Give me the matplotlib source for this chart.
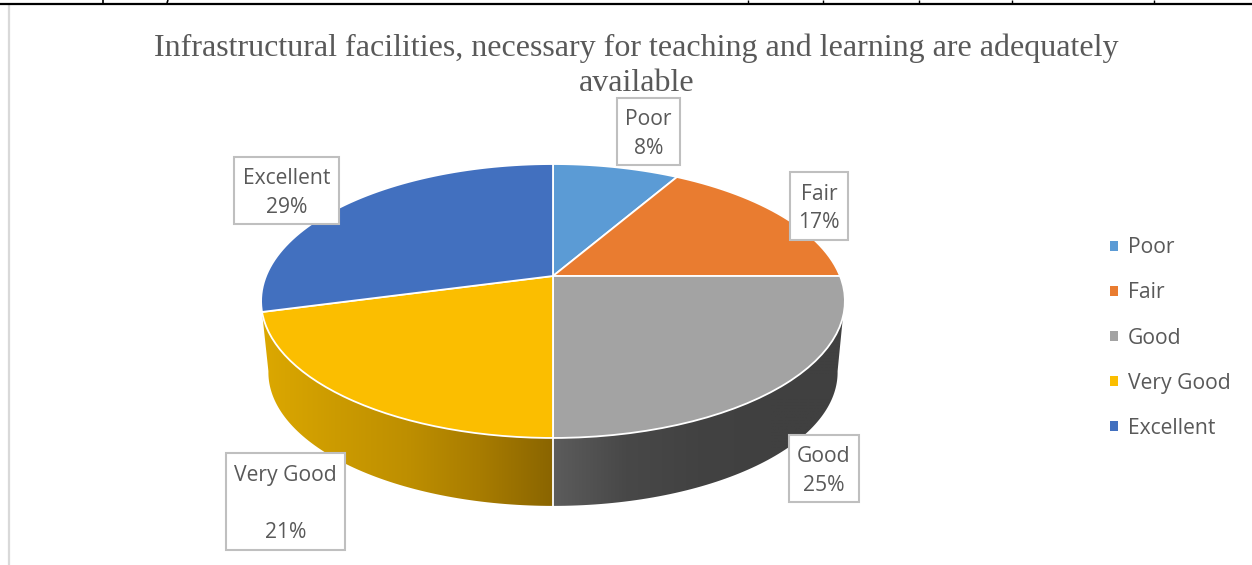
import numpy as np
import matplotlib
matplotlib.use("Agg")
import matplotlib.pyplot as plt
from matplotlib.colors import LinearSegmentedColormap
from matplotlib.patches import Patch, Polygon, Rectangle
from matplotlib.path import Path
from matplotlib.transforms import Transform

# ---- data ----
categories = ["Poor", "Fair", "Good", "Very Good", "Excellent"]
values = [4, 8, 12, 10, 14]
title = "Infrastructural facilities, necessary for teaching and learning are adequately\navailable"

# ---- styles ----
top_colors = ["#5B9BD5", "#E97C30", "#A3A3A3", "#FBBE00", "#4270BF"]
side_stops = {
    "Good": ["#5C5C5C", "#484848", "#424242", "#404040", "#404040"],
    "Very Good": ["#8A6500", "#A87C00", "#BE8F00", "#CC9B00", "#DCA800"],
}
TEXT = "#595959"
BORDER = "#BFBFBF"
SANS = "Open Sans"
SERIF = "Liberation Serif"
FS = 15.2

# label boxes: left, top, right, bottom in figure pixels
boxes = [(617, 98, 680, 165), (790, 172, 848, 240), (789, 435, 859, 502),
         (226, 453, 345, 550), (234, 157, 339, 224)]
label_layout = ["{}\n{}%", "{}\n{}%", "{}\n{}%", "{}\n\n{}%", "{}\n{}%"]

# pie projection (tilted, perspective view)
CX, CY = 553.0, 276.0
A, B, K = 287.0, 132.4, 0.1825
DEPTH, SHRINK = 72.0, 0.975


class Tilted(Transform):
    input_dims = output_dims = 2
    has_inverse = False

    def transform_non_affine(self, xy):
        xy = np.asarray(xy, float)
        w = 1 + K * xy[:, 1]
        return np.c_[CX + A * xy[:, 0] / w, CY - B * xy[:, 1] / w]

    def transform_path_non_affine(self, path):
        big = Path(path.vertices * 600, path.codes)
        poly = big.to_polygons(closed_only=False)
        return Path(self.transform_non_affine(np.vstack(poly) / 600))


tilted = Tilted()


def rim(deg):
    t = np.radians(deg)
    return tilted.transform_non_affine(np.c_[np.sin(t), np.cos(t)])


def lower(pts):
    return np.c_[CX + (pts[:, 0] - CX) * SHRINK, CY + (pts[:, 1] - CY) * SHRINK + DEPTH]


fig = plt.figure(figsize=(12.52, 5.65), dpi=100, facecolor="white")
ax = fig.add_axes([0, 0, 1, 1])

wedges, _ = ax.pie(values, colors=top_colors, startangle=90, counterclock=False,
                   wedgeprops=dict(edgecolor="white", linewidth=1.3))
for w in wedges:
    w.set_transform(tilted + ax.transData)
    w.set_zorder(4)
    w.set_clip_on(False)

# extruded side of the pie
for w, name in zip(wedges, categories):
    c0, c1 = 90 - w.theta2, 90 - w.theta1
    if name not in side_stops:
        continue
    top_a = max(c0, 107)
    bot_a = max(c0, 100)
    bot_b = 260 if c1 > 250 else c1
    top_arc = rim(np.linspace(top_a, c1, 80))
    bot_arc = lower(rim(np.linspace(bot_b, bot_a, 80)))
    poly = np.vstack([top_arc, bot_arc])
    cmap = LinearSegmentedColormap.from_list(name, side_stops[name])
    x0, x1 = poly[:, 0].min(), poly[:, 0].max()
    grad = np.linspace(0, 1, 256)[None, :]
    if name == "Very Good":
        grad = grad[:, ::-1]
    im = ax.imshow(grad, cmap=cmap, extent=(x0, x1, poly[:, 1].max(), poly[:, 1].min()),
                   aspect="auto", zorder=2, interpolation="bilinear")
    clip = Polygon(poly, closed=True, transform=ax.transData, facecolor="none", edgecolor="none")
    ax.add_patch(clip)
    im.set_clip_path(clip)

# white divider between the side segments
div_top = rim(np.array([180.0]))
div_bot = lower(div_top)
ax.plot([div_top[0, 0], div_bot[0, 0]], [div_top[0, 1], div_bot[0, 1]], color="white", lw=1.3, zorder=3)

ax.set_aspect("auto")
ax.set_xlim(0, 1252)
ax.set_ylim(565, 0)
ax.axis("off")

# page remnants: table rule above and chart frame on the left
ax.plot([0, 1252], [3.5, 3.5], color="black", lw=1.6, zorder=6, solid_capstyle="butt")
for x in [748, 823, 919, 1012, 1154]:
    ax.plot([x, x], [0, 3.5], color="black", lw=1, zorder=6, solid_capstyle="butt")
ax.plot([9, 9], [5, 565], color="#D9D9D9", lw=1.6, zorder=1, solid_capstyle="butt")
# descender stubs of the cropped line of body text above the rule
ax.plot([103, 103], [0, 3], color="black", lw=1.2, zorder=6, solid_capstyle="butt")
ax.plot([168, 167], [0, 3], color="black", lw=1.2, zorder=6, solid_capstyle="butt")

ax.text(636.5, 66, title, family=SERIF, fontsize=23, color=TEXT, ha="center",
        va="center", linespacing=1.29, multialignment="center", zorder=3)

total = sum(values)
for (l, t, r, b), name, val, fmt in zip(boxes, categories, values, label_layout):
    ax.add_patch(Rectangle((l, t), r - l, b - t, facecolor="white", edgecolor=BORDER, lw=1.5, zorder=7))
    ax.text((l + r) / 2, (t + b) / 2 + 2.5, fmt.format(name, round(100 * val / total)), family=SANS, fontsize=FS,
            color=TEXT, ha="center", va="center", linespacing=1.5, zorder=8)

handles = [Patch(facecolor=c, edgecolor="none") for c in top_colors]
leg = ax.legend(handles, categories, loc="center left", bbox_to_anchor=(1110, 338),
                bbox_transform=ax.transData, frameon=False,
                handlelength=0.38, handleheight=0.38, handletextpad=0.48,
                labelspacing=1.14, borderpad=0, borderaxespad=0, labelcolor=TEXT,
                prop={"family": SANS, "size": FS})

fig.savefig("out.png", dpi=100)
